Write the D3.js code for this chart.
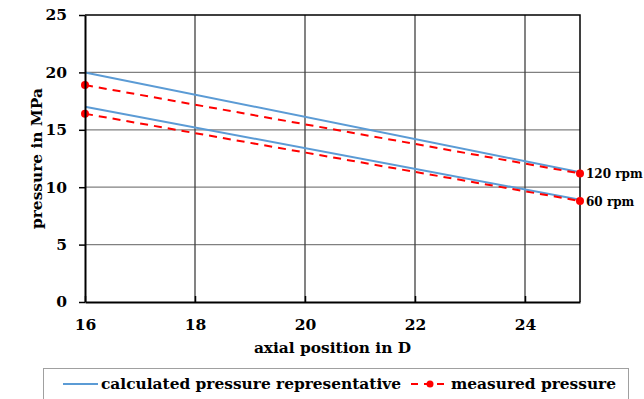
<!DOCTYPE html>
<html>
<head>
<meta charset="utf-8">
<script src="https://cdn.jsdelivr.net/npm/d3@7"></script>
<style>
  body { margin: 0; background: #fff; }
  svg { display: block; font-family: "DejaVu Serif", serif; font-weight: bold; }
</style>
</head>
<body>
<div id="chart"></div>
<script>
// axial positions (in D)
const positions = [16, 25];
// calculated pressure representative, MPa
const calc120 = [20.0, 11.3];
const calc60 = [17.0, 8.9];
// measured pressure, MPa
const meas120 = [18.9, 11.2];
const meas60 = [16.4, 8.8];
const seriesLabels = ["120 rpm", "60 rpm"];
const xTicks = [16, 18, 20, 22, 24];
const yTicks = [0, 5, 10, 15, 20, 25];

const width = 644, height = 399;
const margin = { top: 15, right: 64, bottom: 97, left: 85 };
const innerW = width - margin.left - margin.right;
const innerH = height - margin.top - margin.bottom;
const fontFamily = '"DejaVu Serif", serif';
const labelSize = '15.4px';

const svg = d3.select('#chart').append('svg')
    .attr('width', width)
    .attr('height', height);

const x = d3.scaleLinear().domain([16, 25]).range([margin.left, margin.left + innerW]);
const y = d3.scaleLinear().domain([0, 25]).range([margin.top + innerH, margin.top]);

// horizontal grid
svg.append('g')
    .selectAll('line')
    .data(yTicks.filter(t => t > 0 && t < 25))
    .join('line')
    .attr('x1', x(16)).attr('x2', x(25))
    .attr('y1', d => y(d)).attr('y2', d => y(d))
    .style('stroke', '#808080')
    .style('stroke-width', 1.3);

// vertical grid
svg.append('g')
    .selectAll('line')
    .data(xTicks.filter(t => t > 16))
    .join('line')
    .attr('x1', d => x(d)).attr('x2', d => x(d))
    .attr('y1', y(0)).attr('y2', y(25))
    .style('stroke', '#404040')
    .style('stroke-width', 1.3);

// top and right frame
svg.append('path')
    .attr('d', `M${x(16)},${y(25)}H${x(25)}V${y(0)}`)
    .style('fill', 'none')
    .style('stroke', '#000')
    .style('stroke-width', 1.5);

const line = d3.line()
    .x((d, i) => x(positions[i]))
    .y(d => y(d));

// calculated lines
[calc120, calc60].forEach(s => {
    svg.append('path')
        .attr('d', line(s))
        .style('fill', 'none')
        .style('stroke', '#5b9bd5')
        .style('stroke-width', 2);
});

// measured lines
[meas120, meas60].forEach(s => {
    svg.append('path')
        .attr('d', line(s))
        .style('fill', 'none')
        .style('stroke', '#ff0000')
        .style('stroke-width', 2)
        .style('stroke-dasharray', '8,6');
    svg.append('g')
        .selectAll('circle')
        .data(s)
        .join('circle')
        .attr('cx', (d, i) => x(positions[i]))
        .attr('cy', d => y(d))
        .attr('r', 4)
        .style('fill', '#ff0000');
});

// series labels at right end
[meas120, meas60].forEach((s, i) => {
    svg.append('text')
        .attr('x', x(25) + 6)
        .attr('y', y(s[1]) + 5)
        .style('font-size', '12px')
        .text(seriesLabels[i]);
});

// axes
const xAxis = svg.append('g')
    .attr('transform', `translate(0,${y(0)})`)
    .call(d3.axisBottom(x).tickValues(xTicks).tickSize(6).tickSizeOuter(0).tickPadding(8));
const yAxis = svg.append('g')
    .attr('transform', `translate(${x(16)},0)`)
    .call(d3.axisLeft(y).tickValues(yTicks).tickSize(6).tickSizeOuter(0).tickPadding(12));

[xAxis, yAxis].forEach(g => {
    g.select('.domain').style('stroke', '#000').style('stroke-width', 2);
    g.selectAll('.tick line').style('stroke', '#000').style('stroke-width', 1.5);
    g.selectAll('.tick text')
        .style('font-family', fontFamily)
        .style('font-weight', 'bold')
        .style('font-size', '15.5px')
        .style('fill', '#000');
});
xAxis.selectAll('.tick line').attr('y1', -6).attr('y2', 0);
xAxis.selectAll('.tick text').attr('dy', '0.9em');

// axis titles
svg.append('text')
    .attr('x', (x(16) + x(25)) / 2)
    .attr('y', 353)
    .attr('text-anchor', 'middle')
    .style('font-size', labelSize)
    .text('axial position in D');

svg.append('text')
    .attr('transform', `translate(42,${y(12.5)}) rotate(-90)`)
    .attr('text-anchor', 'middle')
    .style('font-size', labelSize)
    .text('pressure in MPa');

// legend
const legend = svg.append('g');
legend.append('rect')
    .attr('x', 43.5).attr('y', 368.5)
    .attr('width', 585).attr('height', 40)
    .style('fill', '#fff')
    .style('stroke', '#a0a0a0')
    .style('stroke-width', 1);
legend.append('line')
    .attr('x1', 63).attr('x2', 98).attr('y1', 384).attr('y2', 384)
    .style('stroke', '#5b9bd5').style('stroke-width', 2);
legend.append('text')
    .attr('x', 101).attr('y', 389)
    .style('font-size', labelSize)
    .text('calculated pressure representative');
legend.append('line')
    .attr('x1', 411).attr('x2', 448).attr('y1', 384).attr('y2', 384)
    .style('stroke', '#ff0000').style('stroke-width', 2)
    .style('stroke-dasharray', '7,6');
legend.append('circle')
    .attr('cx', 430).attr('cy', 384).attr('r', 3.5)
    .style('fill', '#ff0000');
legend.append('text')
    .attr('x', 451).attr('y', 389)
    .style('font-size', labelSize)
    .text('measured pressure');
</script>
</body>
</html>
